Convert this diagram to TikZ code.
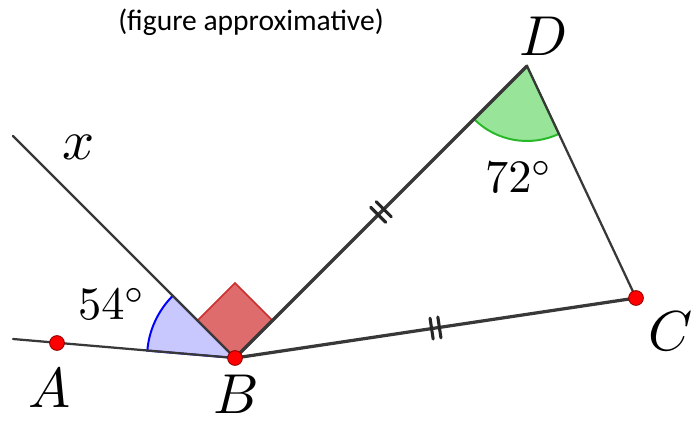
\documentclass[tikz,border=0pt]{standalone}
\usepackage{fontspec}
\newfontfamily\carlito{Carlito}
\usetikzlibrary{calc, decorations.markings}

\definecolor{bluefill}{RGB}{200,200,255}
\definecolor{sqfill}{RGB}{222,108,108}
\definecolor{sqedge}{RGB}{205,45,45}
\definecolor{greenfill}{RGB}{152,228,152}
\definecolor{greenedge}{RGB}{40,185,40}

\begin{document}
\begin{tikzpicture}[
  x=0.025cm, y=0.025cm,
  seg/.style={draw=black!78, line width=1.6pt, line cap=round},
  thickseg/.style={seg, line width=2.3pt},
  dot/.style={circle, fill=red, draw=red!55!black, line width=0.6pt, minimum size=10.5pt, inner sep=0pt},
  lbl/.style={scale=4, transform shape, inner sep=0pt},
  deg/.style={scale=3.3, transform shape, inner sep=0pt},
  ticks/.style={postaction={decorate}, decoration={markings, mark=at position 0.5 with {
      \draw[line width=2.2pt, black!85] (-2.8pt,-7.5pt) -- (-2.8pt,7.5pt) (2.8pt,-7.5pt) -- (2.8pt,7.5pt);}}},
]
\useasboundingbox (0,0) rectangle (697,423);

% --- points (pixel grid, y up) ---
\coordinate (B) at (235,65);
\coordinate (A) at (57,80);
\coordinate (L) at (13,84);
\coordinate (X) at (13,287);
\coordinate (D) at (527,357);
\coordinate (C) at (636,125);

% --- angle marks ---
\filldraw[fill=bluefill, draw=blue, line width=1.4pt]
  (B) -- ++(135:88) arc[start angle=135, end angle=175.2, radius=88] -- cycle;
\filldraw[fill=greenfill, draw=greenedge, line width=1.4pt]
  (D) -- ++(225:75) arc[start angle=225, end angle=295.2, radius=75] -- cycle;
\filldraw[fill=sqfill, draw=sqedge, line width=1.2pt]
  (B) -- ++(45:53) -- ++(135:53) -- ++(225:53) -- cycle;

% --- segments ---
\draw[seg] (L) -- (B);
\draw[seg] (B) -- (X);
\draw[thickseg, ticks] (B) -- (D);
\draw[thickseg, ticks] (B) -- (C);
\draw[seg] (D) -- (C);

% --- dots ---
\node[dot] (dotA) at (A) {};
\node[dot] (dotB) at (B) {};
\node[dot] (dotC) at (C) {};

% --- labels ---
\node[lbl] (labA) at (50,35)  {$A$};
\node[lbl] (labB) at (236,29) {$B$};
\node[lbl] (labC) at (671,92) {$C$};
\node[lbl] (labD) at (544,387) {$D$};
\node[lbl] (labX) at (79,276) {$x$};
\node[deg] (angB) at (112,119) {$54^\circ$};
\node[deg] (angD) at (519,246) {$72^\circ$};
\node[font=\carlito\fontsize{21}{24}\selectfont] (note) at (251,401) {(figure approximative)};

\end{tikzpicture}
\end{document}
